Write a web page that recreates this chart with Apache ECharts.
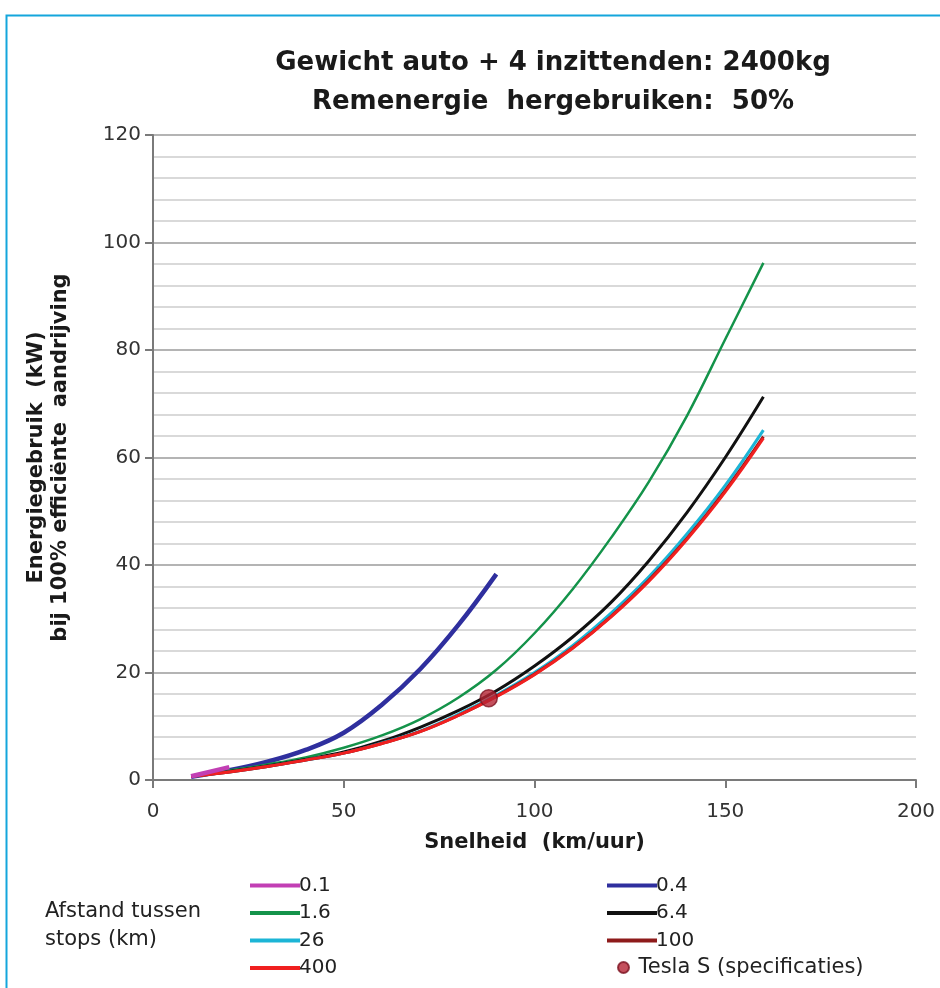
<!DOCTYPE html>
<html>
<head>
<meta charset="utf-8">
<script src="https://cdn.jsdelivr.net/npm/echarts@6/dist/echarts.min.js"></script>
<style>
html,body{margin:0;padding:0;background:#fff;}
#chart{width:940px;height:988px;}
</style>
</head>
<body>
<div id="chart"></div>
<script>
// ---- data ----
const speeds = [10, 20, 30, 40, 50, 60, 70, 80, 90, 100, 110, 120, 130, 140, 150, 160];
const stops01  = [0.7, 2.4];                      // 0.1 km (10..20 km/h)
const stops04  = [0.6, 1.8, 3.4, 5.6, 8.8, 14.0, 20.6, 28.8, 38.3]; // 0.4 km (10..90 km/h)
const stops16  = [0.8, 1.8, 2.9, 4.2, 6.0, 8.3, 11.3, 15.3, 20.5, 27.3, 35.5, 45.0, 55.5, 67.8, 82.0, 96.2];
const stops64  = [0.8, 1.6, 2.6, 3.8, 5.2, 7.2, 9.8, 12.9, 16.6, 21.2, 26.6, 33.0, 40.8, 49.8, 60.0, 71.3];
const stops26  = [0.7, 1.5, 2.5, 3.7, 5.0, 6.9, 9.1, 12.2, 15.8, 20.0, 25.0, 31.0, 37.8, 45.8, 54.8, 65.1];
const stops100 = [0.7, 1.5, 2.5, 3.7, 5.0, 6.8, 9.0, 12.0, 15.6, 19.7, 24.6, 30.4, 37.2, 45.0, 53.9, 63.9];
const stops400 = [0.7, 1.5, 2.5, 3.7, 5.0, 6.8, 9.0, 12.0, 15.5, 19.6, 24.5, 30.3, 37.0, 44.8, 53.6, 63.6];
const teslaS   = [[88, 15.2]];
const seriesNames = ['0.1', '0.4', '1.6', '6.4', '26', '100', '400', 'Tesla S (specificaties)'];
const xTicks = [0, 50, 100, 150, 200];
const yTicks = [0, 20, 40, 60, 80, 100, 120];

function pairs(vals) {
  return vals.map((v, i) => [speeds[i], v]);
}

const FONT = 'DejaVu Sans';
const chart = echarts.init(document.getElementById('chart'), null, {renderer: 'canvas'});

function lineSeries(name, data, color, width, z) {
  return {
    name: name, type: 'line', data: data, smooth: 0.4, symbol: 'none',
    lineStyle: {color: color, width: width}, itemStyle: {color: color}, z: z
  };
}
function legendLine(name) { return {name: name, itemStyle: {opacity: 0}}; }
const legendText = {fontFamily: FONT, fontSize: 20, color: '#222', lineHeight: 21, padding: [0, 0, 0, -6]};

const option = {
  backgroundColor: '#fff',
  animation: false,
  title: {
    text: 'Gewicht auto + 4 inzittenden: 2400kg\nRemenergie  hergebruiken:  50%',
    left: 548, top: 39, textAlign: 'center',
    textStyle: {fontFamily: FONT, fontWeight: 'bold', fontSize: 26, color: '#1a1a1a', lineHeight: 39}
  },
  grid: {left: 153, right: 24, top: 135, bottom: 208},
  xAxis: {
    type: 'value', min: xTicks[0], max: xTicks[xTicks.length - 1], interval: 50,
    name: 'Snelheid  (km/uur)', nameLocation: 'middle', nameGap: 52,
    nameTextStyle: {fontFamily: FONT, fontWeight: 'bold', fontSize: 21, color: '#1a1a1a'},
    axisLine: {show: true, lineStyle: {color: '#7a7a7a', width: 2}},
    axisTick: {show: true, length: 8, lineStyle: {color: '#7a7a7a', width: 2}},
    axisLabel: {fontFamily: FONT, fontSize: 20, color: '#333', margin: 22},
    splitLine: {show: false}
  },
  yAxis: {
    type: 'value', min: yTicks[0], max: yTicks[yTicks.length - 1], interval: 20,
    name: 'Energiegebruik  (kW)\nbij 100% efficiënte  aandrijving', nameLocation: 'middle', nameGap: 80,
    nameRotate: 90,
    nameTextStyle: {fontFamily: FONT, fontWeight: 'bold', fontSize: 21, color: '#1a1a1a', lineHeight: 24},
    axisLine: {show: true, lineStyle: {color: '#7a7a7a', width: 2}},
    axisTick: {show: true, length: 8, lineStyle: {color: '#7a7a7a', width: 2}},
    axisLabel: {fontFamily: FONT, fontSize: 20, color: '#333', margin: 12},
    splitLine: {show: true, lineStyle: {color: '#b4b4b4', width: 2}},
    minorTick: {show: false, splitNumber: 5},
    minorSplitLine: {show: true, lineStyle: {color: '#d9d9d9', width: 2}}
  },
  legend: [
    {
      data: [legendLine(seriesNames[0]), legendLine(seriesNames[2]), legendLine(seriesNames[4]), legendLine(seriesNames[6])],
      orient: 'vertical', left: 243, top: 870, height: 120,
      itemWidth: 50, itemHeight: 11, itemGap: 6.5,
      lineStyle: {width: 4}, textStyle: legendText
    },
    {
      data: [legendLine(seriesNames[1]), legendLine(seriesNames[3]), legendLine(seriesNames[5])],
      orient: 'vertical', left: 600, top: 870, height: 120,
      itemWidth: 50, itemHeight: 11, itemGap: 6.5,
      lineStyle: {width: 4}, textStyle: legendText
    },
    {
      data: [{name: seriesNames[7], icon: 'circle'}],
      orient: 'vertical', left: 612, top: 952, height: 40,
      itemWidth: 20, itemHeight: 11, itemGap: 6.5,
      textStyle: Object.assign({}, legendText, {fontSize: 21, padding: [0, 0, 0, 0]})
    }
  ],
  graphic: [
    {type: 'rect', left: 4, top: 13, z: 100, silent: true,
     shape: {width: 960, height: 1000}, style: {fill: 'none', stroke: '#14a6dc', lineWidth: 2}},
    {type: 'text', left: 45, top: 898, silent: true,
     style: {text: 'Afstand tussen\nstops (km)', font: '21px "DejaVu Sans"', fill: '#222', lineHeight: 28}}
  ],
  series: [
    lineSeries(seriesNames[1], pairs(stops04), '#2f2f9e', 4.5, 2),
    lineSeries(seriesNames[2], pairs(stops16), '#14934a', 2.5, 3),
    lineSeries(seriesNames[3], pairs(stops64), '#111111', 3, 4),
    lineSeries(seriesNames[4], pairs(stops26), '#1cb5d6', 3, 5),
    lineSeries(seriesNames[5], pairs(stops100), '#8e1b1b', 3, 6),
    lineSeries(seriesNames[6], pairs(stops400), '#f02020', 3, 7),
    lineSeries(seriesNames[0], pairs(stops01), '#c23fb4', 4.5, 8),
    {
      name: seriesNames[7], type: 'scatter', data: teslaS, symbol: 'circle', symbolSize: 17, z: 10,
      itemStyle: {color: '#b52435', borderColor: '#7d1422', borderWidth: 1.5}
    }
  ]
};
chart.setOption(option);
</script>
</body>
</html>
